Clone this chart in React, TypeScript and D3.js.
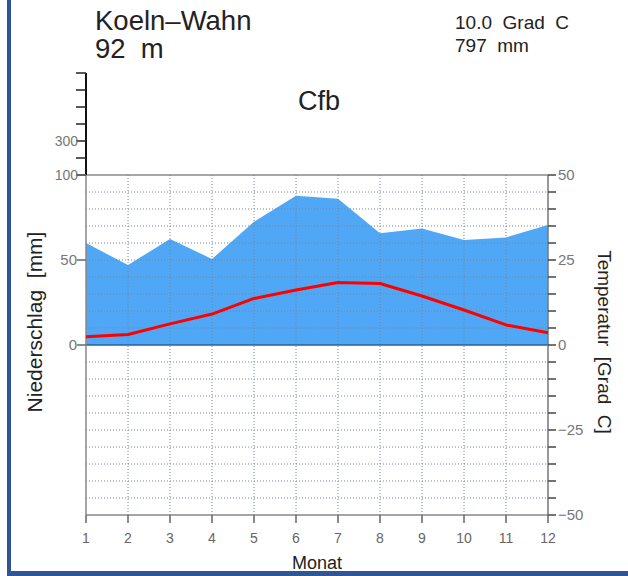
import React from "react";
import * as d3 from "d3";

const months = [1, 2, 3, 4, 5, 6, 7, 8, 9, 10, 11, 12];
const precip = [60, 47, 62.4, 50.6, 72.5, 87.8, 86, 65.7, 68.6, 61.8, 63.3, 70.6];
const temp = [2.4, 3.1, 6.2, 9.1, 13.7, 16.2, 18.4, 18.1, 14.4, 10.3, 5.9, 3.6];
const leftTicks = [0, 50, 100];
const upperTicks = [100, 200, 300, 400, 500, 600, 700];
const upperLabels = [100, 300];
const rightTicks = [-50, -25, 0, 25, 50];
const rightMinor = d3.range(-50, 51, 5);
const gridTemps = d3.range(-45, 50, 5).filter((t) => t !== 0);

const FONT = "'Liberation Sans', Arial, Helvetica, sans-serif";

export default function App() {
  const x = d3.scaleLinear().domain([1, 12]).range([86, 548]);
  const yP = d3.scaleLinear().domain([0, 100]).range([345, 175]);
  const yT = d3.scaleLinear().domain([-50, 50]).range([515, 175]);
  const yUp = d3.scaleLinear().domain([100, 700]).range([175, 73]);

  const area = d3
    .area<number>()
    .x((_, i) => x(months[i]))
    .y0(yP(0))
    .y1((d) => yP(d));
  const line = d3
    .line<number>()
    .x((_, i) => x(months[i]))
    .y((d) => yT(d));

  const [x0, x1] = x.range();
  const yTop = yT(50);
  const yBot = yT(-50);

  return (
    <svg
      width={628}
      height={576}
      style={{ position: "absolute", left: 0, top: 0, background: "#fff" }}
      fontFamily={FONT}
    >
      <rect x={0} y={0} width={628} height={576} fill="#fff" />
      {/* Titles */}
      <text x={95} y={30} fontSize={27.5} fill="#222">Koeln–Wahn</text>
      <text x={95} y={58} fontSize={27.5} fill="#222" style={{ whiteSpace: "pre" }}>92  m</text>
      <text x={455} y={29} fontSize={19} fill="#222" style={{ whiteSpace: "pre" }}>
        10.0  Grad  C
      </text>
      <text x={455} y={52} fontSize={19} fill="#222" style={{ whiteSpace: "pre" }}>
        797  mm
      </text>
      <text x={298} y={110} fontSize={27} fill="#222">Cfb</text>

      {/* Precip fill */}
      <path d={area(precip) || ""} fill="#4fa7f5" />

      {/* Grid */}
      {gridTemps.map((t) => (
        <line
          key={"h" + t}
          x1={x0}
          x2={x1}
          y1={yT(t)}
          y2={yT(t)}
          stroke="#75859a"
          strokeWidth={1}
          strokeDasharray="1 2"
        />
      ))}
      {months.slice(1, -1).map((m) => (
        <line
          key={"v" + m}
          x1={x(m)}
          x2={x(m)}
          y1={yTop}
          y2={yBot}
          stroke="#75859a"
          strokeWidth={1}
          strokeDasharray="1 2"
        />
      ))}

      {/* Zero line */}
      <line x1={x0} x2={x1} y1={yP(0)} y2={yP(0)} stroke="#2a5f9e" strokeWidth={1.5} />

      {/* Frame */}
      <line x1={x0} x2={x1} y1={yTop} y2={yTop} stroke="#888" strokeWidth={1.5} />
      <line x1={x0} x2={x1} y1={yBot} y2={yBot} stroke="#888" strokeWidth={1.5} />
      <line x1={x0} x2={x0} y1={yTop} y2={yBot} stroke="#888" strokeWidth={1.5} />
      <line x1={x1} x2={x1} y1={yTop} y2={yBot} stroke="#777" strokeWidth={1.5} />

      {/* Upper compressed axis */}
      <line x1={x0} x2={x0} y1={yUp(700)} y2={yUp(100)} stroke="#111" strokeWidth={2} />
      {upperTicks.map((t) => (
        <line key={"u" + t} x1={x0 - 10} x2={x0} y1={yUp(t)} y2={yUp(t)} stroke="#222" strokeWidth={1.5} />
      ))}
      {upperLabels.map((t) => (
        <text key={"ul" + t} x={x0 - 8} y={yUp(t) + 5} fontSize={14} fill="#777" textAnchor="end">
          {t}
        </text>
      ))}

      {/* Left ticks */}
      {leftTicks.map((t) => (
        <g key={"l" + t}>
          <line x1={x0 - 9} x2={x0} y1={yP(t)} y2={yP(t)} stroke="#666" strokeWidth={1.5} />
          {t !== 100 && (
            <text x={x0 - 9} y={yP(t) + 5} fontSize={15} fill="#777" textAnchor="end">
              {t}
            </text>
          )}
        </g>
      ))}

      {/* Right axis */}
      {rightMinor.map((t) => (
        <line key={"rm" + t} x1={x1} x2={x1 + 8} y1={yT(t)} y2={yT(t)} stroke="#444" strokeWidth={1.5} />
      ))}
      {rightTicks.map((t) => (
        <text key={"r" + t} x={x1 + 10} y={yT(t) + 5} fontSize={15} fill="#777">
          {t < 0 ? "−" + Math.abs(t) : t}
        </text>
      ))}

      {/* Bottom axis */}
      {months.map((m) => (
        <g key={"b" + m}>
          <line x1={x(m)} x2={x(m)} y1={yBot} y2={yBot + 8} stroke="#666" strokeWidth={1.5} />
          <text x={x(m)} y={yBot + 28} fontSize={14} fill="#666" textAnchor="middle">
            {m}
          </text>
        </g>
      ))}
      <text x={317} y={569} fontSize={18} fill="#222" textAnchor="middle">Monat</text>

      {/* Axis titles */}
      <text
        transform="translate(42,322) rotate(-90)"
        fontSize={21}
        fill="#222"
        textAnchor="middle"
        style={{ whiteSpace: "pre" }}
      >
        Niederschlag  [mm]
      </text>
      <text
        transform="translate(598,342) rotate(90)"
        fontSize={19}
        fill="#222"
        textAnchor="middle"
        style={{ whiteSpace: "pre" }}
      >
        Temperatur  [Grad  C]
      </text>

      {/* Temperature line */}
      <path d={line(temp) || ""} fill="none" stroke="#ff0000" strokeWidth={3} strokeLinejoin="round" />

      {/* Border */}
      <rect x={7} y={0} width={4} height={576} fill="#2f5597" />
      <rect x={7} y={571} width={621} height={5} fill="#2f5597" />
    </svg>
  );
}
